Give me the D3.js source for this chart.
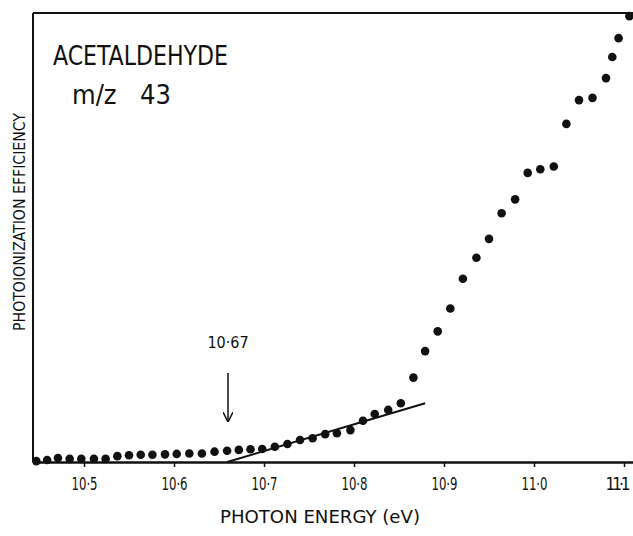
<!DOCTYPE html>
<html>
<head>
<meta charset="utf-8">
<script src="https://cdn.jsdelivr.net/npm/d3@7"></script>
<style>
  body { margin: 0; background: #fff; }
  svg { display: block; }
  text { font-family: "DejaVu Sans Condensed", "Liberation Sans Narrow", sans-serif; fill: #111; }
</style>
</head>
<body>
<svg id="chart"></svg>
<script>
// Data (efficiency in arbitrary units, 0-100 of the frame)
const energy = [10.447, 10.459, 10.471, 10.484, 10.497, 10.511, 10.524, 10.537, 10.550, 10.563,
  10.576, 10.590, 10.603, 10.617, 10.631, 10.645, 10.659, 10.672, 10.685, 10.698,
  10.712, 10.726, 10.740, 10.754, 10.768, 10.781, 10.796, 10.810, 10.823, 10.838,
  10.852, 10.866, 10.879, 10.893, 10.907, 10.921, 10.936, 10.950, 10.964, 10.979,
  10.993, 11.007, 11.022, 11.036, 11.050, 11.065, 11.080, 11.087, 11.094, 11.106];
const efficiency = [0.2, 0.45, 0.9, 0.7, 0.7, 0.7, 0.7, 1.3, 1.5, 1.6,
  1.6, 1.7, 1.8, 1.9, 1.9, 2.3, 2.5, 2.7, 2.85, 2.9,
  3.4, 4.0, 4.9, 5.3, 6.2, 6.4, 7.1, 9.2, 10.7, 11.6,
  13.1, 18.8, 24.7, 29.1, 34.2, 40.8, 45.5, 49.7, 55.4, 58.5,
  64.4, 65.2, 65.8, 75.3, 80.6, 81.1, 85.5, 90.2, 94.4, 99.3];

// linear extrapolation to threshold
const fitEnergy = [10.659, 10.879];
const fitValue = [0, 13.1];

const xTicks = [10.5, 10.6, 10.7, 10.8, 10.9, 11.0, 11.1];
const thresholdLabel = "10·67";
const thresholdEnergy = 10.66;
const arrowValues = [19.8, 8.9];

const width = 633;
const height = 536;
const margin = { top: 13, right: 0, bottom: 74, left: 33 };

const x = d3.scaleLinear()
  .domain([10.4433, 11.11])
  .range([margin.left, width - margin.right]);

const y = d3.scaleLinear()
  .domain([0, 100])
  .range([height - margin.bottom, margin.top]);

const svg = d3.select("#chart").attr("width", width).attr("height", height);

// frame: top and left lines
svg.append("line")
  .attr("x1", margin.left).attr("x2", width)
  .attr("y1", y(100)).attr("y2", y(100))
  .attr("stroke", "#111").attr("stroke-width", 2);

svg.append("line")
  .attr("x1", margin.left).attr("x2", margin.left)
  .attr("y1", y(100)).attr("y2", y(0))
  .attr("stroke", "#111").attr("stroke-width", 2);

// x axis
const xAxis = d3.axisBottom(x)
  .tickValues(xTicks)
  .tickSize(5)
  .tickSizeOuter(0)
  .tickPadding(10)
  .tickFormat(d => d3.format(".1f")(d).replace(".", "·"));

const gx = svg.append("g")
  .attr("transform", `translate(0,${y(0)})`)
  .call(xAxis)
  .attr("font-size", null)
  .attr("font-family", null);

gx.select(".domain").attr("stroke", "#111").attr("stroke-width", 2.5);
gx.selectAll(".tick line").attr("stroke", "#111").attr("stroke-width", 1.5);
gx.selectAll(".tick text")
  .attr("font-size", 18)
  .attr("dy", null)
  .attr("y", 28)
  .attr("fill", "#111");

gx.selectAll(".tick text")
  .filter(d => d !== 11.1)
  .attr("lengthAdjust", "spacingAndGlyphs")
  .attr("textLength", 26);

// last label sits against the right edge
gx.selectAll(".tick text")
  .filter(d => d === 11.1)
  .attr("text-anchor", "end")
  .attr("x", 3)
  .attr("font-size", 17)
  .style("letter-spacing", "-3px");

// axis titles
svg.append("text")
  .attr("x", 320)
  .attr("y", 523)
  .attr("text-anchor", "middle")
  .attr("textLength", 200)
  .attr("lengthAdjust", "spacingAndGlyphs")
  .attr("font-size", 17)
  .text("PHOTON ENERGY  (eV)");

svg.append("text")
  .attr("transform", "translate(25,222) rotate(-90)")
  .attr("text-anchor", "middle")
  .attr("textLength", 218)
  .attr("lengthAdjust", "spacingAndGlyphs")
  .attr("font-size", 16)
  .text("PHOTOIONIZATION  EFFICIENCY");

// compound label
svg.append("text")
  .attr("x", 53).attr("y", 65)
  .attr("textLength", 175)
  .attr("lengthAdjust", "spacingAndGlyphs")
  .attr("font-size", 27)
  .text("ACETALDEHYDE");

svg.append("text")
  .attr("x", 72).attr("y", 104)
  .attr("font-size", 27)
  .text("m/z");

svg.append("text")
  .attr("x", 140).attr("y", 104)
  .attr("font-size", 27)
  .text("43");

// fitted line
svg.append("path")
  .datum(d3.zip(fitEnergy, fitValue))
  .attr("fill", "none")
  .attr("stroke", "#111")
  .attr("stroke-width", 2)
  .attr("d", d3.line().x(d => x(d[0])).y(d => y(d[1])));

// threshold arrow
svg.append("defs").append("marker")
  .attr("id", "arrow")
  .attr("viewBox", "0 0 10 10")
  .attr("refX", 10).attr("refY", 5)
  .attr("markerWidth", 10).attr("markerHeight", 10)
  .attr("markerUnits", "userSpaceOnUse")
  .attr("orient", "auto")
  .append("path")
  .attr("d", "M0,0 L10,5 L0,10")
  .attr("fill", "none")
  .attr("stroke", "#111")
  .attr("stroke-width", 1.5);

svg.append("line")
  .attr("x1", x(thresholdEnergy)).attr("x2", x(thresholdEnergy))
  .attr("y1", y(arrowValues[0])).attr("y2", y(arrowValues[1]))
  .attr("stroke", "#111")
  .attr("stroke-width", 1.5)
  .attr("marker-end", "url(#arrow)");

svg.append("text")
  .attr("x", x(thresholdEnergy))
  .attr("y", 348)
  .attr("text-anchor", "middle")
  .attr("font-size", 16)
  .text(thresholdLabel);

// data points
svg.selectAll(".dot")
  .data(d3.zip(energy, efficiency))
  .enter()
  .append("circle")
  .attr("class", "dot")
  .attr("cx", d => x(d[0]))
  .attr("cy", d => y(d[1]))
  .attr("r", 4.3)
  .attr("fill", "#111");
</script>
</body>
</html>
